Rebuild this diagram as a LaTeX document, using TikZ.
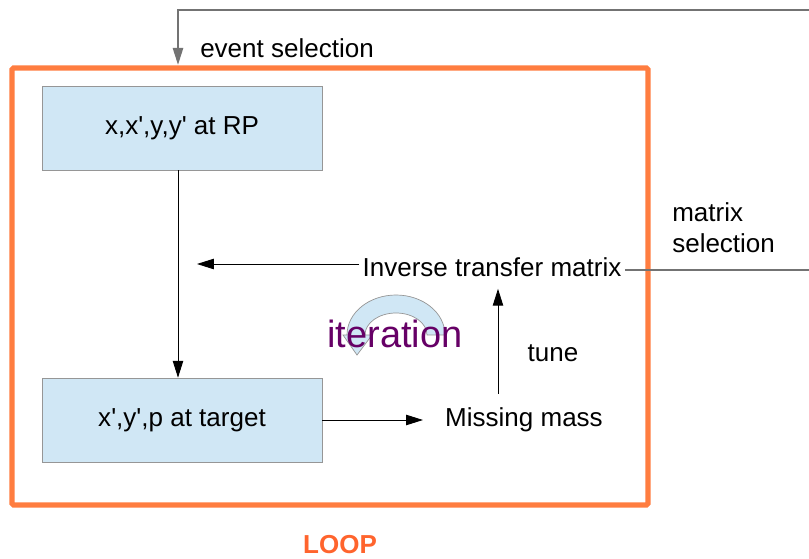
\documentclass[tikz,border=0pt]{standalone}
\usepackage{fontspec}
\setmainfont{Liberation Sans}
\usepackage{tikz}
\usetikzlibrary{arrows.meta, positioning, calc}
\definecolor{LoopOrange}{RGB}{255, 125, 64}
\definecolor{LoopText}{RGB}{255, 100, 45}
\definecolor{BoxBlue}{RGB}{208, 231, 245}
\definecolor{BoxEdge}{RGB}{150, 150, 150}
\definecolor{IterPurple}{RGB}{102, 0, 102}
\newcommand{\pr}{\textquotesingle}

\begin{document}
\begin{tikzpicture}[
            >={Triangle[length=0.42cm, width=0.26cm]},
            every node/.style={font=\fontsize{18.5}{22}\selectfont},
            stage/.style={draw=BoxEdge, fill=BoxBlue, minimum width=7cm, minimum height=2.1cm, align=center},
            label/.style={inner sep=0pt, align=left},
            link/.style={->, black, line width=0.6pt},
            feed/.style={draw=black!55, line width=0.9pt}
        ]
        \useasboundingbox (0,0) rectangle (20.225,-13.975);

        % --- RAMKA PETLI ---
        \draw[LoopOrange, line width=3.6pt, rounded corners=1pt] (0.3,-1.7) rectangle (16.2,-12.625);
        \node[font=\fontsize{18.5}{22}\selectfont\bfseries, text=LoopText] (loop) at (8.5,-13.625) {LOOP};

        % --- BLOKI ---
        \node[stage] (rp) at (4.55,-3.2) {x,x\pr,y,y\pr{} at RP};
        \node[stage] (target) at (4.55,-10.5) {x\pr,y\pr,p at target};
        \draw[link] ([xshift=-0.1cm]rp.south) -- ([xshift=-0.1cm]target.north);

        % --- STROZALKA ITERACJI ---
        \draw[BoxEdge, fill=BoxBlue, line width=0.5pt] (11.125,-8.375) arc[start angle=0, end angle=180, x radius=1.225, y radius=1.0]
            -- (8.575,-8.375) -- (8.925,-8.875) -- (9.3,-8.375) -- (9.125,-8.375)
            arc[start angle=180, end angle=0, x radius=0.775, y radius=0.55] -- cycle;
        \node[font=\fontsize{27}{30}\selectfont, text=IterPurple] (iter) at (9.875,-8.35) {iteration};

        % --- MACIERZ I MASA ---
        \node[inner xsep=0.08cm, inner ysep=0.3cm] (inv) at (12.3,-6.675) {Inverse transfer matrix};
        \coordinate (invtip) at (4.925,-6.6);
        \draw[link] (inv.west |- invtip) -- (invtip);

        \node[inner xsep=0.55cm, inner ysep=0.35cm] (mass) at (13.1,-10.5) {Missing mass};
        \draw[link] (target.east |- mass.west) -- (mass.west);
        \draw[link] (mass.north -| 12.45,0) -- (inv.south -| 12.45,0);
        \node[label] (tune) at (13.825,-8.825) {tune};

        % --- SELEKCJE Z ZEWNATRZ ---
        \coordinate (topright) at (20.225,-0.25);
        \coordinate (entry) at (4.45,-1.62);
        \draw[feed, ->] (topright) -| (entry);
        \node[label, anchor=west] (evsel) at (5.0,-1.2) {event selection};

        \coordinate (rightend) at (20.225,-6.75);
        \draw[feed] (inv.east |- rightend) -- (rightend);
        \node[label, anchor=west] (matsel) at (16.8,-5.7) {matrix\\selection};

        \end{tikzpicture}
\end{document}
